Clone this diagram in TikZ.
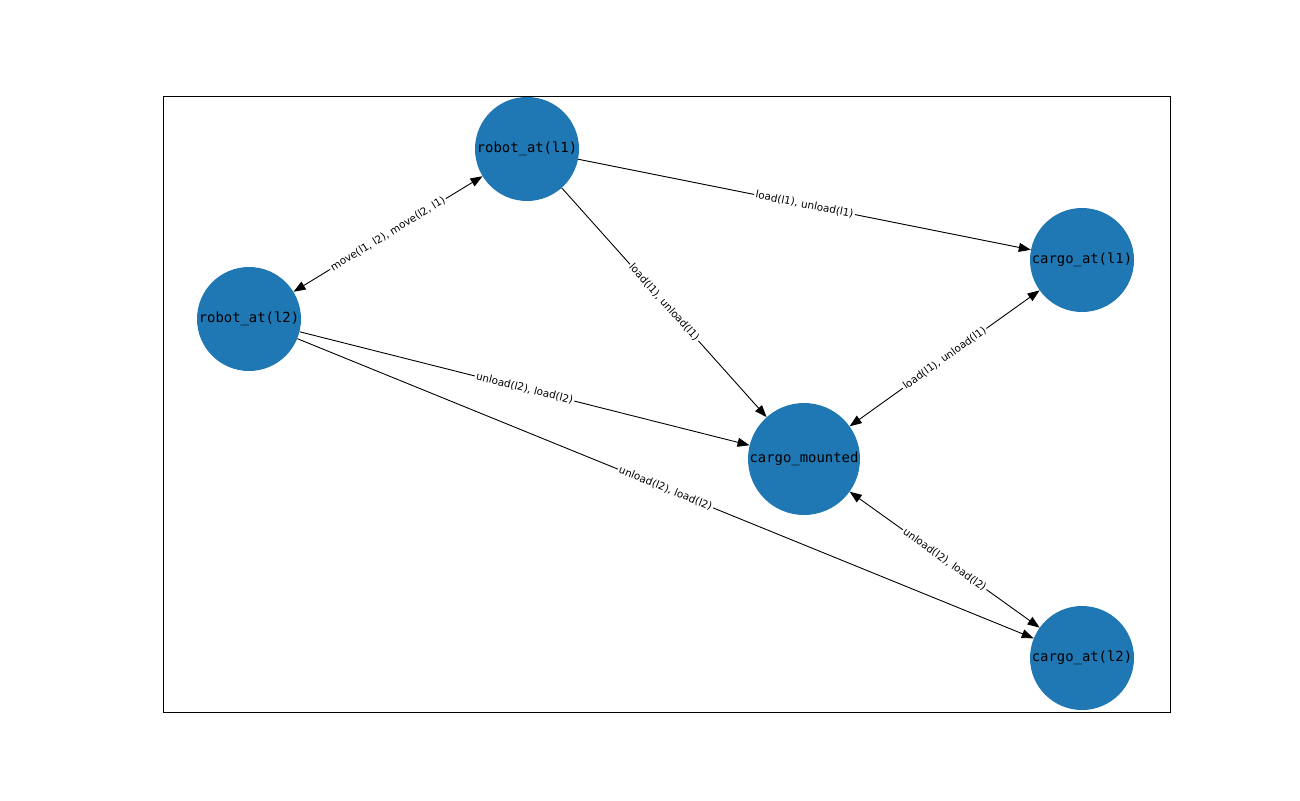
\documentclass[tikz,border=0pt]{standalone}
\usepackage{fontspec}
\setmainfont{DejaVu Sans}
\setmonofont{DejaVu Sans Mono}
\usetikzlibrary{arrows.meta}
\definecolor{nb}{HTML}{1F77B4}
\begin{document}
\begin{tikzpicture}[x=1pt,y=-1pt,
  nd/.style={circle,fill=nb,inner sep=0,minimum size=104pt,font=\fontsize{13.9}{14}\ttfamily},
  ed/.style={-{Triangle[length=12pt,width=9pt]},line width=0.9pt},
  bi/.style={{Triangle[length=12pt,width=9pt]}-{Triangle[length=12pt,width=9pt]},line width=0.9pt},
  lb/.style={midway,sloped,fill=white,inner sep=1.5pt,font=\fontsize{10.4}{11}\selectfont}]
\useasboundingbox (0,0) rectangle (1300,800);
\draw[line width=0.8pt] (163,96) rectangle (1170,712);
\node[nd] (r1) at (527,149) {robot\_at(l1)};
\node[nd] (r2) at (249,319) {robot\_at(l2)};
\node[nd] (c1) at (1082,260) {cargo\_at(l1)};
\node[nd,minimum size=112pt] (cm) at (804,459) {cargo\_mounted};
\node[nd] (c2) at (1082,658) {cargo\_at(l2)};
\draw[bi] (r2) -- (r1) node[lb] {move(l1, l2), move(l2, l1)};
\draw[ed] (r1) -- (c1) node[lb] {load(l1), unload(l1)};
\draw[ed] (r1) -- (cm) node[lb] {load(l1), unload(l1)};
\draw[ed] (r2) -- (cm) node[lb] {unload(l2), load(l2)};
\draw[ed] (r2) -- (c2) node[lb] {unload(l2), load(l2)};
\draw[bi] (cm) -- (c1) node[lb] {load(l1), unload(l1)};
\draw[bi] (cm) -- (c2) node[lb] {unload(l2), load(l2)};
\end{tikzpicture}
\end{document}
